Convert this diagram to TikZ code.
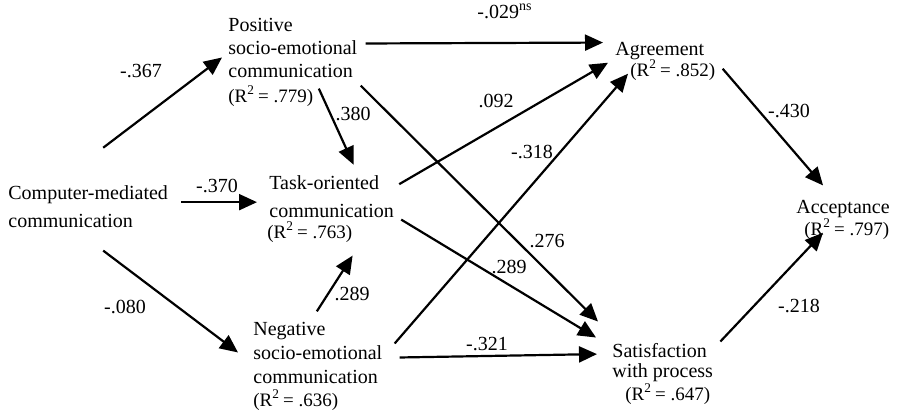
\documentclass[tikz,border=0pt]{standalone}
\usepackage{fontspec}
\setmainfont{Liberation Serif}
\usetikzlibrary{arrows.meta}

\begin{document}
\begin{tikzpicture}[x=0.5pt, y=-0.5pt,
    var/.style={anchor=base west, inner sep=0pt, align=left, font=\fontsize{10}{#1}\selectfont},
    var/.default=12,
    rsq/.style={anchor=base west, inner sep=0pt, font=\fontsize{9.5}{11}\selectfont},
    coef/.style={anchor=base, inner sep=0pt, font=\fontsize{10}{12}\selectfont},
    link/.style={line width=1.1pt, -{Triangle[length=9pt, width=8pt]}}]
    \useasboundingbox (0,0) rectangle (897,414);

    \node[var=14] (cmc) at (8,227) {Computer-mediated\\communication};
    \node[var=11.5] (pos) at (228,77) {Positive\\socio-emotional\\communication};
    \node[rsq] (posR) at (228,102) {(R\textsuperscript{2}\,= .779)};
    \node[var=14] (task) at (269,217) {Task-oriented\\communication};
    \node[rsq] (taskR) at (267,238) {(R\textsuperscript{2}\,= .763)};
    \node[var=12] (neg) at (253,383) {Negative\\socio-emotional\\communication};
    \node[rsq] (negR) at (253,406) {(R\textsuperscript{2}\,= .636)};
    \node[var] (agr) at (615,55) {Agreement};
    \node[rsq] (agrR) at (630,76) {(R\textsuperscript{2}\,= .852)};
    \node[var=10] (sat) at (612,377) {Satisfaction\\with process};
    \node[rsq] (satR) at (625,400) {(R\textsuperscript{2}\,= .647)};
    \node[var] (acc) at (796,213) {Acceptance};
    \node[rsq] (accR) at (804,235) {(R\textsuperscript{2}\,= .797)};

    \draw[link] ([shift={(15,-37)}]cmc.north) -- ([shift={(-6,10)}]pos.west);
    \draw[link] ([shift={(13,-4)}]cmc.east) -- ([shift={(-12,6)}]task.west);
    \draw[link] ([shift={(15,23)}]cmc.south) -- ([shift={(-15,0)}]neg.west);
    \draw[link] ([shift={(8,-4)}]pos.east) -- ([shift={(-12,-8)}]agr.west);
    \draw[link] ([shift={(26,11)}]pos.south) -- ([shift={(22,-10)}]task.north);
    \draw[link] ([shift={(3,8)}]pos.south east) -- ([shift={(-14,-21)}]sat.north west);
    \draw[link] ([shift={(5,-12)}]task.east) -- ([shift={(-7,3)}]agr.south west);
    \draw[link] ([shift={(7,2)}]task.south east) -- ([shift={(-16,-5)}]sat.north west);
    \draw[link] ([shift={(12,-9)}]neg.east) -- ([shift={(13,14)}]agr.south west);
    \draw[link] ([shift={(17,5)}]neg.east) -- ([shift={(-15,-8)}]sat.west);
    \draw[link] ([shift={(-1,-10)}]neg.north) -- ([shift={(21,38)}]task.south);
    \draw[link] ([shift={(18,9)}]agr.south east) -- ([shift={(-20,-14)}]acc.north);
    \draw[link] ([shift={(7,-1)}]sat.north east) -- ([shift={(-20,15)}]acc.south);

    \node[coef] (wCmcPos) at (141,77) {-.367};
    \node[coef] (wCmcTask) at (217,192) {-.370};
    \node[coef] (wCmcNeg) at (125,313) {-.080};
    \node[coef, anchor=base west] (wPosAgr) at (477,18) {-.029\textsuperscript{ns}};
    \node[coef] (wPosTask) at (353,120) {.380};
    \node[coef] (wTaskAgr) at (496,107) {.092};
    \node[coef] (wNegAgr) at (532,158) {-.318};
    \node[coef] (wPosSat) at (547,247) {.276};
    \node[coef] (wTaskSat) at (509,273) {.289};
    \node[coef] (wNegSat) at (487,350) {-.321};
    \node[coef] (wNegTask) at (352,300) {.289};
    \node[coef] (wAgrAcc) at (789,117) {-.430};
    \node[coef] (wSatAcc) at (799,312) {-.218};
\end{tikzpicture}
\end{document}
